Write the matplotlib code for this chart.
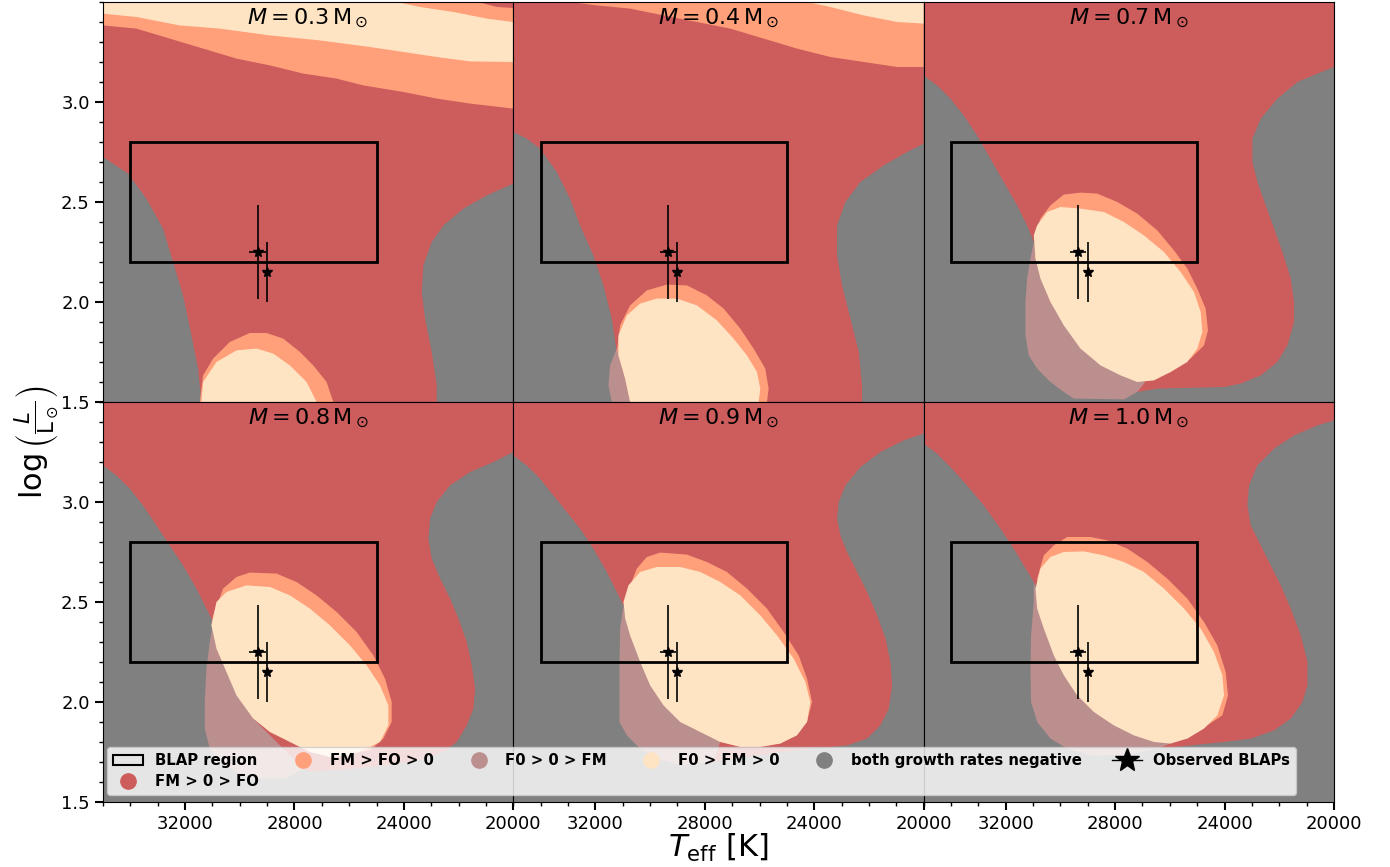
import matplotlib
matplotlib.use('Agg')

import matplotlib.pyplot as plt
from matplotlib.patches import Patch, Rectangle
from matplotlib.lines import Line2D
from matplotlib.ticker import MultipleLocator

# colours of the growth-rate regions
c_fm0fo = 'indianred'     # FM > 0 > FO
c_fmfo = 'lightsalmon'    # FM > FO > 0
c_f00fm = 'rosybrown'     # F0 > 0 > FM
c_f0fm = 'bisque'         # F0 > FM > 0
c_neg = 'gray'            # both negative

masses = [0.3, 0.4, 0.7, 0.8, 0.9, 1.0]

# BLAP box and observed BLAPs
box_teff = [34000, 25000]
box_logl = [2.2, 2.8]
obs_teff = [29350, 29000]
obs_logl = [2.25, 2.15]
obs_teff_err = [300, 150]
obs_logl_err = [0.235, 0.15]

# ---- M = 0.3 ----  (Teff, logL) vertices
red_03 = [(35000, 3.5), (20000, 3.5), (20000, 2.592), (20970, 2.533), (21824, 2.467),
          (22556, 2.383), (22983, 2.3), (23288, 2.183), (23349, 2.05), (23227, 1.917),
          (22983, 1.75), (22800, 1.583), (22800, 1.5), (31401, 1.5), (31523, 1.667),
          (31767, 1.833), (32072, 2.033), (32438, 2.2), (32804, 2.367), (33414, 2.517),
          (34085, 2.642), (35000, 2.725)]
salmon_band_03 = [(35000, 3.383), (33780, 3.367), (32560, 3.317), (31340, 3.267),
                  (30120, 3.217), (28900, 3.183), (27680, 3.142), (26460, 3.117),
                  (25484, 3.083), (24020, 3.05), (22800, 3.017), (21580, 2.992),
                  (20000, 2.967), (20000, 3.5), (35000, 3.5)]
cream_band_03 = [(35000, 3.442), (33780, 3.425), (32194, 3.383), (30730, 3.367),
                 (28900, 3.333), (27070, 3.308), (25240, 3.275), (24020, 3.25),
                 (22800, 3.225), (21580, 3.203), (20000, 3.2), (20000, 3.5), (35000, 3.5)]
salmon_top_03 = [(24264, 3.5), (23410, 3.475), (22190, 3.45), (20970, 3.417),
                 (20000, 3.4), (20000, 3.5)]
red_top_03 = [(21300, 3.5), (20600, 3.475), (20000, 3.47), (20000, 3.5)]
salmon_03 = [(31462, 1.5), (31340, 1.633), (30974, 1.717), (30364, 1.8), (29632, 1.845),
             (29022, 1.845), (28412, 1.817), (27802, 1.75), (27314, 1.683), (26826, 1.6),
             (26582, 1.5)]
cream_03 = [(31401, 1.5), (31340, 1.6), (30852, 1.7), (30120, 1.758), (29388, 1.767),
            (28778, 1.742), (28168, 1.683), (27558, 1.6), (27192, 1.5)]

# ---- M = 0.4 ----
red_04 = [(35000, 3.5), (20000, 3.5), (20000, 2.792), (20604, 2.75), (21458, 2.683),
          (22312, 2.6), (22861, 2.5), (23166, 2.383), (23166, 2.233), (22983, 2.083),
          (22678, 1.917), (22373, 1.75), (22251, 1.583), (22251, 1.5), (31340, 1.5),
          (31340, 1.583), (31218, 1.75), (31401, 1.917), (31706, 2.083), (32072, 2.233),
          (32560, 2.383), (32926, 2.517), (33414, 2.65), (34024, 2.767), (34512, 2.817),
          (35000, 2.85)]
salmon_band_04 = [(32926, 3.5), (31950, 3.483), (30730, 3.467), (29510, 3.433),
                  (28290, 3.4), (27070, 3.367), (25850, 3.317), (24630, 3.267),
                  (23410, 3.225), (22190, 3.2), (20970, 3.175), (20000, 3.175), (20000, 3.5)]
cream_band_04 = [(24264, 3.5), (23410, 3.475), (22190, 3.433), (20970, 3.4),
                 (20000, 3.392), (20000, 3.5)]
salmon_04 = [(31218, 1.75), (31096, 1.883), (30730, 1.983), (30120, 2.058), (29388, 2.087),
             (28656, 2.083), (27924, 2.033), (27314, 1.967), (26704, 1.867), (26216, 1.767),
             (25789, 1.667), (25667, 1.567), (25728, 1.5), (31340, 1.5)]
mauve_04 = [(31218, 1.767), (31462, 1.683), (31523, 1.583), (31401, 1.5), (30730, 1.5),
            (30913, 1.617), (31157, 1.733)]
cream_04 = [(31157, 1.833), (30852, 1.933), (30364, 1.992), (29754, 2.017), (29022, 2.017),
            (28290, 1.983), (27558, 1.908), (26948, 1.817), (26460, 1.733), (26094, 1.65),
            (25972, 1.567), (26033, 1.5), (30730, 1.5), (30913, 1.617), (31157, 1.733)]

# ---- M = 0.7 ----
red_07 = [(35000, 3.5), (20000, 3.5), (20000, 3.175), (20604, 3.142), (21336, 3.1),
          (22068, 3.017), (22678, 2.917), (22983, 2.817), (22983, 2.7), (22800, 2.6),
          (22495, 2.483), (22190, 2.367), (21885, 2.25), (21580, 2.117), (21458, 2.0),
          (21458, 1.9), (21702, 1.783), (22068, 1.7), (22678, 1.633), (23410, 1.592),
          (24020, 1.575), (26460, 1.567), (27192, 1.55), (28500, 1.75), (30974, 2.3),
          (31218, 2.383), (31584, 2.483), (32072, 2.6), (32560, 2.717), (33048, 2.833),
          (33536, 2.933), (34024, 3.017), (34512, 3.083), (35000, 3.133)]
mauve_07 = [(30974, 2.3), (31096, 2.217), (31218, 2.117), (31279, 2.0), (31279, 1.833),
            (31157, 1.733), (30852, 1.667), (30364, 1.6), (29876, 1.55), (29510, 1.517),
            (27680, 1.513), (27192, 1.55), (26900, 1.6), (28900, 1.75), (30120, 2.0),
            (30852, 2.233)]
salmon_07 = [(30913, 2.35), (30730, 2.417), (30364, 2.483), (29876, 2.537), (29266, 2.547),
             (28656, 2.542), (27924, 2.5), (27192, 2.442), (26460, 2.358), (25850, 2.258),
             (25362, 2.167), (24996, 2.067), (24691, 1.967), (24606, 1.858), (24752, 1.783),
             (25240, 1.717), (25972, 1.65), (27192, 1.6), (29266, 1.767), (30364, 2.0),
             (30913, 2.217)]
cream_07 = [(30974, 2.333), (30852, 2.383), (30486, 2.45), (29998, 2.475), (29266, 2.467),
            (28412, 2.45), (27680, 2.4), (26948, 2.333), (26216, 2.25), (25606, 2.15),
            (25118, 2.05), (24874, 1.95), (24813, 1.85), (24996, 1.767), (25362, 1.7),
            (25972, 1.65), (26582, 1.608), (27192, 1.6), (27802, 1.633), (28534, 1.683),
            (29266, 1.767), (29876, 1.883), (30364, 2.0), (30730, 2.117), (30913, 2.217)]

# ---- M = 0.8 ----
red_08 = [(35000, 3.5), (20000, 3.5), (20000, 3.25), (20726, 3.2), (21580, 3.15),
          (22312, 3.083), (22800, 3.0), (23044, 2.917), (23105, 2.817), (22983, 2.717),
          (22678, 2.617), (22312, 2.517), (22007, 2.417), (21702, 2.3), (21519, 2.183),
          (21397, 2.067), (21458, 1.967), (21702, 1.883), (22068, 1.8), (22556, 1.75),
          (23410, 1.708), (24630, 1.683), (25850, 1.667), (27500, 1.65), (29500, 1.9),
          (30974, 2.4), (31218, 2.467), (31584, 2.567), (32072, 2.683), (32560, 2.783),
          (33048, 2.883), (33536, 2.983), (34024, 3.067), (34512, 3.133), (35000, 3.183)]
mauve_08 = [(30974, 2.4), (31096, 2.3), (31218, 2.167), (31279, 2.0), (31279, 1.867),
            (31096, 1.767), (30730, 1.7), (30120, 1.65), (29510, 1.617), (28290, 1.617),
            (27680, 1.667), (29510, 1.917), (30486, 2.167), (30913, 2.367)]
salmon_08 = [(30974, 2.433), (30608, 2.567), (30120, 2.625), (29632, 2.647), (28656, 2.642),
             (27924, 2.6), (27192, 2.533), (26460, 2.45), (25728, 2.35), (25118, 2.233),
             (24691, 2.117), (24447, 2.0), (24447, 1.9), (24752, 1.817), (25240, 1.758),
             (26704, 1.725), (28900, 1.85), (30486, 2.15), (31035, 2.383)]
cream_08 = [(31035, 2.383), (30852, 2.5), (30486, 2.55), (29754, 2.583), (28900, 2.575),
            (28168, 2.533), (27436, 2.467), (26704, 2.383), (25972, 2.283), (25362, 2.183),
            (24874, 2.083), (24569, 1.983), (24569, 1.883), (24874, 1.8), (25362, 1.767),
            (25972, 1.733), (26704, 1.725), (27436, 1.75), (28168, 1.8), (28900, 1.85),
            (29510, 1.917), (30120, 2.033), (30486, 2.15), (30852, 2.267)]

# ---- M = 0.9 ----
red_09 = [(35000, 3.5), (20000, 3.5), (20000, 3.342), (20726, 3.308), (21580, 3.25),
          (22312, 3.175), (22861, 3.083), (23105, 3.0), (23166, 2.917), (23044, 2.833),
          (22800, 2.75), (22434, 2.65), (22068, 2.55), (21702, 2.433), (21397, 2.317),
          (21214, 2.2), (21153, 2.083), (21275, 1.967), (21580, 1.883), (22068, 1.817),
          (22800, 1.783), (24020, 1.767), (25240, 1.75), (27680, 1.7), (29500, 2.0),
          (30974, 2.483), (31218, 2.55), (31584, 2.65), (32072, 2.767), (32560, 2.867),
          (33048, 2.95), (33536, 3.033), (34024, 3.117), (34512, 3.183), (35000, 3.233)]
mauve_09 = [(30974, 2.483), (31096, 2.367), (31120, 2.167), (31120, 2.0), (31120, 1.9),
            (30852, 1.833), (30364, 1.767), (29754, 1.717), (28900, 1.683), (27680, 1.7),
            (27436, 1.8), (29510, 1.983), (30364, 2.2), (30913, 2.417)]
salmon_09 = [(30913, 2.517), (30486, 2.667), (30120, 2.725), (29632, 2.747), (28656, 2.737),
             (27924, 2.7), (27192, 2.65), (26460, 2.567), (25728, 2.467), (25118, 2.35),
             (24569, 2.233), (24264, 2.117), (24081, 2.0), (24264, 1.9), (25240, 1.792),
             (27436, 1.8), (29510, 1.983), (30730, 2.333)]
cream_09 = [(30974, 2.5), (30791, 2.583), (30364, 2.65), (29754, 2.675), (28900, 2.675),
            (28168, 2.65), (27436, 2.6), (26704, 2.533), (25972, 2.433), (25362, 2.333),
            (24752, 2.217), (24325, 2.1), (24142, 2.0), (24264, 1.9), (24630, 1.833),
            (25240, 1.792), (25972, 1.775), (26704, 1.775), (27436, 1.8), (28168, 1.85),
            (28900, 1.9), (29510, 1.983), (29998, 2.083), (30364, 2.2), (30730, 2.333),
            (30913, 2.417)]

# ---- M = 1.0 ----
red_10 = [(35000, 3.5), (20000, 3.5), (20000, 3.408), (20604, 3.383), (21458, 3.333),
          (22190, 3.267), (22800, 3.183), (23105, 3.083), (23166, 2.983), (23044, 2.883),
          (22678, 2.783), (22312, 2.683), (21946, 2.583), (21580, 2.467), (21214, 2.333),
          (20970, 2.2), (20970, 2.083), (21153, 2.0), (21580, 1.917), (22190, 1.858),
          (23044, 1.817), (24020, 1.8), (25240, 1.783), (26460, 1.767), (28500, 2.0),
          (30974, 2.6), (31340, 2.683), (31706, 2.767), (32194, 2.867), (32804, 2.983),
          (33414, 3.083), (34024, 3.175), (34512, 3.242), (35000, 3.292)]
mauve_10 = [(30974, 2.6), (30974, 2.5), (31072, 2.333), (31096, 2.167), (31072, 2.0),
            (30852, 1.9), (30364, 1.817), (29754, 1.767), (28900, 1.733), (27680, 1.733),
            (26460, 1.767), (25972, 1.792), (28778, 1.95), (29876, 2.133), (30608, 2.367),
            (30913, 2.567)]
salmon_10 = [(30852, 2.617), (30608, 2.733), (30242, 2.783), (29754, 2.825), (28900, 2.825),
             (28290, 2.808), (27558, 2.767), (26826, 2.7), (26094, 2.617), (25362, 2.517),
             (24752, 2.4), (24264, 2.283), (23959, 2.15), (23874, 2.033), (24081, 1.933),
             (25362, 1.817), (28778, 1.95), (30608, 2.367)]
cream_10 = [(30913, 2.567), (30730, 2.667), (30364, 2.725), (29876, 2.75), (29144, 2.753),
            (28412, 2.733), (27680, 2.7), (26948, 2.65), (26216, 2.567), (25484, 2.467),
            (24874, 2.367), (24386, 2.25), (24081, 2.133), (24020, 2.033), (24264, 1.933),
            (24752, 1.867), (25362, 1.817), (25972, 1.792), (26582, 1.8), (27314, 1.833),
            (28046, 1.883), (28778, 1.95), (29388, 2.033), (29876, 2.133), (30242, 2.233),
            (30608, 2.367), (30852, 2.467)]

# drawing order per panel: (polygon, colour)
layers = [
    [(red_03, c_fm0fo), (salmon_band_03, c_fmfo), (cream_band_03, c_f0fm),
     (salmon_top_03, c_fmfo), (red_top_03, c_fm0fo), (salmon_03, c_fmfo), (cream_03, c_f0fm)],
    [(red_04, c_fm0fo), (salmon_band_04, c_fmfo), (cream_band_04, c_f0fm),
     (salmon_04, c_fmfo), (mauve_04, c_f00fm), (cream_04, c_f0fm)],
    [(red_07, c_fm0fo), (mauve_07, c_f00fm), (salmon_07, c_fmfo), (cream_07, c_f0fm)],
    [(red_08, c_fm0fo), (mauve_08, c_f00fm), (salmon_08, c_fmfo), (cream_08, c_f0fm)],
    [(red_09, c_fm0fo), (mauve_09, c_f00fm), (salmon_09, c_fmfo), (cream_09, c_f0fm)],
    [(red_10, c_fm0fo), (mauve_10, c_f00fm), (salmon_10, c_fmfo), (cream_10, c_f0fm)],
]

fig, axes = plt.subplots(2, 3, figsize=(13.9, 8.67), dpi=100, sharex=True, sharey=True)
fig.subplots_adjust(left=0.0741, right=0.9597, top=0.9977, bottom=0.075, wspace=0, hspace=0)

for i, ax in enumerate(axes.flat):
    ax.set_facecolor(c_neg)
    for poly, col in layers[i]:
        t = [p[0] for p in poly]
        l = [p[1] for p in poly]
        ax.fill(t, l, color=col, lw=0, zorder=1)
    ax.add_patch(Rectangle((box_teff[1], box_logl[0]), box_teff[0] - box_teff[1],
                           box_logl[1] - box_logl[0], fill=False, ec='k', lw=2, zorder=3))
    ax.errorbar(obs_teff, obs_logl, xerr=obs_teff_err, yerr=obs_logl_err, fmt='*',
                color='k', ms=7, elinewidth=1.2, capsize=0, zorder=4)
    ax.text(0.5, 0.988, r'$M = %.1f\,\mathrm{M}_\odot$' % masses[i], transform=ax.transAxes,
            ha='center', va='top', fontsize=16, zorder=5)
    ax.set_xlim(35000, 20000)
    ax.set_ylim(1.5, 3.5)
    ax.xaxis.set_major_locator(MultipleLocator(4000))
    ax.xaxis.set_minor_locator(MultipleLocator(1000))
    ax.yaxis.set_major_locator(MultipleLocator(0.5))
    ax.yaxis.set_minor_locator(MultipleLocator(0.1))
    ax.tick_params(which='major', length=6, width=1.5, labelsize=13)
    ax.tick_params(which='minor', length=3, width=1)
    if i % 3 != 0:
        ax.tick_params(which='both', left=False)
    if i < 3:
        ax.tick_params(which='both', bottom=False)

axes[0, 0].set_yticks([1.5, 2.0, 2.5, 3.0])
axes[1, 0].set_xticks([32000, 28000, 24000, 20000])

fig.text(0.517, 0.022, r'$T_\mathrm{eff}$ [K]', ha='center', va='center', fontsize=22)
fig.text(0.026, 0.49, r'$\log\left(\frac{L}{\mathrm{L}_\odot}\right)$', rotation=90,
         ha='center', va='center', fontsize=22)

handles = [
    Patch(facecolor='none', edgecolor='k', lw=1.5, label='BLAP region'),
    Line2D([], [], marker='o', ls='none', ms=11, color=c_fm0fo, label='FM > 0 > FO'),
    Line2D([], [], marker='o', ls='none', ms=11, color=c_fmfo, label='FM > FO > 0'),
    Line2D([], [], marker='o', ls='none', ms=11, color=c_f00fm, label='F0 > 0 > FM'),
    Line2D([], [], marker='o', ls='none', ms=11, color=c_f0fm, label='F0 > FM > 0'),
    Line2D([], [], marker='o', ls='none', ms=11, color=c_neg, label='both growth rates negative'),
    Line2D([], [], marker='*', ls='-', lw=1, ms=18, color='k', label='Observed BLAPs'),
]
fig.legend(handles=handles, loc='lower left', bbox_to_anchor=(0.0772, 0.083), ncol=6,
           borderaxespad=0, labelspacing=0.4, prop={'weight': 'bold', 'size': 10.7})

fig.savefig('out.png', dpi=100)
